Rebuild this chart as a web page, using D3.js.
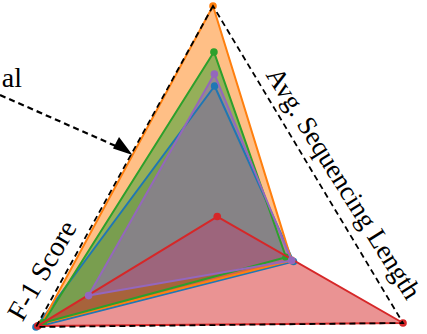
<!DOCTYPE html>
<html>
<head>
<meta charset="utf-8">
<script src="https://cdn.jsdelivr.net/npm/d3@7"></script>
<style>
  html, body { margin: 0; padding: 0; background: #fff; }
  svg { display: block; }
</style>
</head>
<body>
<svg id="chart" width="427" height="334"></svg>
<script>
// ---- data ----
const axisNames = ["Top", "F-1 Score", "Avg. Sequencing Length"];
const annotationText = "al";
const seriesNames = ["Blue", "Orange", "Green", "Red", "Purple"];
const blueVals   = [0.624, 1.00, 0.41];
const orangeVals = [1.00, 0.97, 0.40];
const greenVals  = [0.784, 0.96, 0.37];
const redVals    = [0.01, 0.99, 1.00];
const purpleVals = [0.68, 0.71, 0.40];
const seriesValues = [blueVals, orangeVals, greenVals, redVals, purpleVals];
const seriesColors = ["#1f77b4", "#ff7f0e", "#2ca02c", "#d62728", "#9467bd"];

// ---- layout ----
const svg = d3.select("#chart");
const center = [217.3, 218.7];
const axisEnds = [[213, 6], [36, 327], [403, 323]];
const scalesX = axisEnds.map(e => d3.scaleLinear().domain([0, 1]).range([center[0], e[0]]));
const scalesY = axisEnds.map(e => d3.scaleLinear().domain([0, 1]).range([center[1], e[1]]));
const pt = (v, i) => [scalesX[i](v), scalesY[i](v)];

const closed = d3.line().curve(d3.curveLinearClosed);

const fillLayer = svg.append("g");
const lineLayer = svg.append("g");

// fills first (below), then outlines + markers
seriesValues.forEach((vals, s) => {
  const pts = vals.map((v, i) => pt(v, i));
  fillLayer.append("path")
    .attr("d", closed(pts))
    .attr("fill", seriesColors[s])
    .attr("fill-opacity", 0.5)
    .attr("stroke", "none");
  lineLayer.append("path")
    .attr("d", closed(pts))
    .attr("fill", "none")
    .attr("stroke", seriesColors[s])
    .attr("stroke-width", 2)
    .attr("stroke-linejoin", "round");
  lineLayer.selectAll(null).data(vals).enter().append("circle")
    .attr("cx", (v, i) => scalesX[i](v))
    .attr("cy", (v, i) => scalesY[i](v))
    .attr("r", 3.8)
    .attr("fill", seriesColors[s]);
});

// dashed outline (axis maxima)
const outline = axisNames.map((a, i) => pt(1, i));
svg.append("path")
  .attr("d", closed(outline))
  .attr("fill", "none")
  .attr("stroke", "#000")
  .attr("stroke-width", 1.8)
  .attr("stroke-dasharray", "6,4");

// labels
const font = "'Liberation Serif', 'Times New Roman', serif";
svg.append("text")
  .attr("transform", "translate(50,275) rotate(-60)")
  .attr("text-anchor", "middle")
  .style("font-family", font).style("font-size", "28px")
  .text(axisNames[1]);
svg.append("text")
  .attr("transform", "translate(336,188) rotate(58)")
  .attr("text-anchor", "middle")
  .style("font-family", font).style("font-size", "27px")
  .text(axisNames[2]);
svg.append("text")
  .attr("x", 22).attr("y", 87)
  .attr("text-anchor", "end")
  .style("font-family", font).style("font-size", "28px")
  .text(annotationText);

// arrow annotation
svg.append("line")
  .attr("x1", 0).attr("y1", 95).attr("x2", 118).attr("y2", 147)
  .attr("stroke", "#000").attr("stroke-width", 2.2)
  .attr("stroke-dasharray", "6,4");
svg.append("path")
  .attr("d", "M132.5,155 L113,148.5 L119,137 Z")
  .attr("fill", "#000");
</script>
</body>
</html>
